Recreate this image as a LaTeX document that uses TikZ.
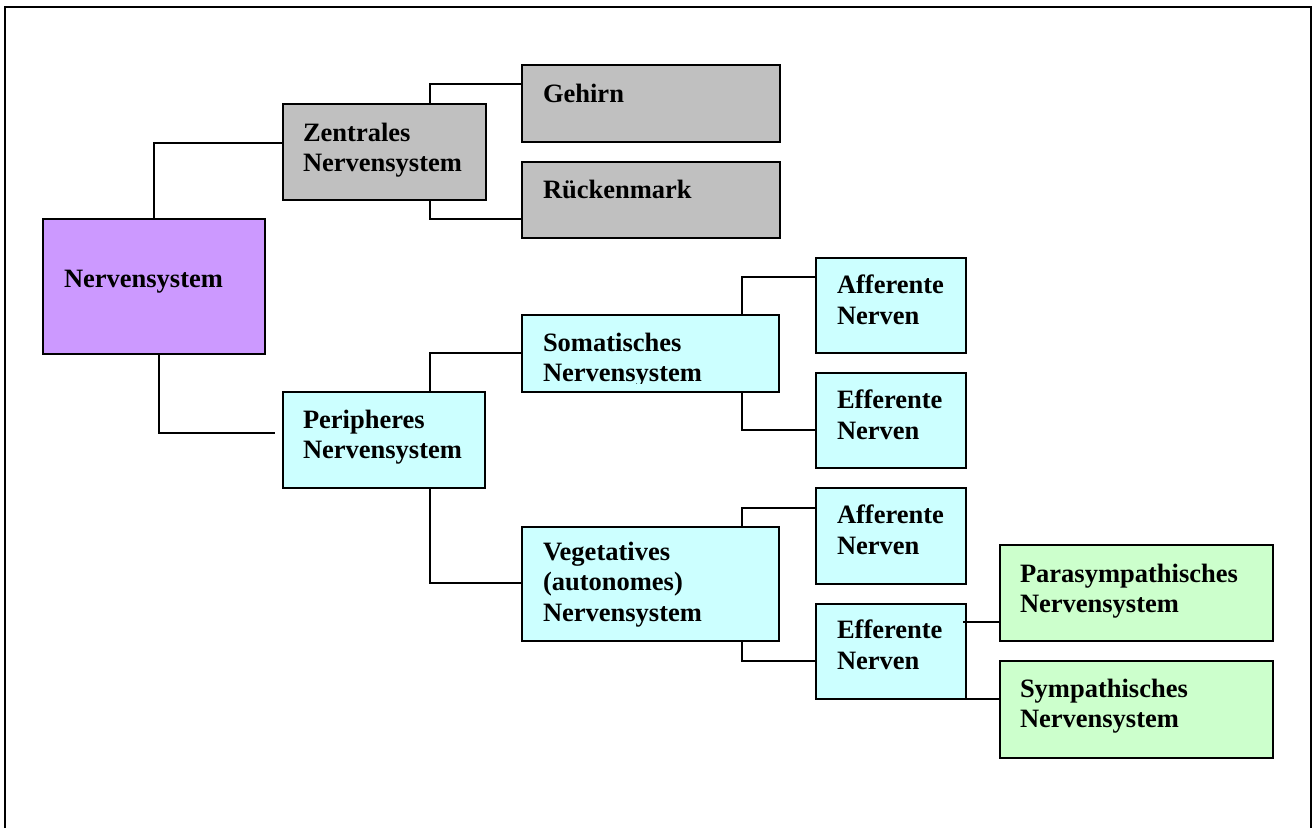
\documentclass[tikz,border=0pt]{standalone}
\usepackage{fontspec}
\setmainfont{Liberation Serif}
\usetikzlibrary{calc}
\definecolor{nsPurple}{HTML}{CC99FF}
\definecolor{nsGray}{HTML}{C0C0C0}
\definecolor{nsCyan}{HTML}{CCFFFF}
\definecolor{nsGreen}{HTML}{CCFFCC}
\begin{document}
\begin{tikzpicture}[x=1pt,y=-1pt,
  orgbox/.style={draw=black, line width=2pt, rectangle, inner sep=0pt, outer sep=0pt, anchor=north west},
  boxlabel/.style={anchor=north west, inner sep=0pt, outer sep=0pt, align=left,
    font=\fontsize{26.5}{30.5}\selectfont\bfseries},
  link/.style={draw=black, line width=1.6pt}]
\useasboundingbox (0,0) rectangle (1312,828);
% page frame (open at the bottom)
\draw[line width=2.2pt] (5,828) -- (5,7) -- (1311,7) -- (1311,828);

% boxes
\node[orgbox, fill=nsPurple, minimum width=222pt, minimum height=135pt] (nerv)   at (43,219)   {};
\node[orgbox, fill=nsGray,   minimum width=203pt, minimum height=96pt]  (zent)   at (283,104)  {};
\node[orgbox, fill=nsGray,   minimum width=258pt, minimum height=77pt]  (gehirn) at (522,65)   {};
\node[orgbox, fill=nsGray,   minimum width=258pt, minimum height=76pt]  (rueck)  at (522,162)  {};
\node[orgbox, fill=nsCyan,   minimum width=202pt, minimum height=96pt]  (per)    at (283,392)  {};
\node[orgbox, fill=nsCyan,   minimum width=257pt, minimum height=77pt]  (soma)   at (522,315)  {};
\node[orgbox, fill=nsCyan,   minimum width=150pt, minimum height=95pt]  (aff1)   at (816,258)  {};
\node[orgbox, fill=nsCyan,   minimum width=150pt, minimum height=95pt]  (eff1)   at (816,373)  {};
\node[orgbox, fill=nsCyan,   minimum width=257pt, minimum height=114pt] (veg)    at (522,527)  {};
\node[orgbox, fill=nsCyan,   minimum width=150pt, minimum height=96pt]  (aff2)   at (816,488)  {};
\node[orgbox, fill=nsCyan,   minimum width=150pt, minimum height=95pt]  (eff2)   at (816,604)  {};
\node[orgbox, fill=nsGreen,  minimum width=273pt, minimum height=96pt]  (para)   at (1000,545) {};
\node[orgbox, fill=nsGreen,  minimum width=273pt, minimum height=97pt]  (symp)   at (1000,661) {};

% labels
\node[boxlabel] (nerv-t)   at ($(nerv.north west)+(21,51)$)   {Nervensystem};
\node[boxlabel] (zent-t)   at ($(zent.north west)+(20,19)$)   {Zentrales\\Nervensystem};
\node[boxlabel] (gehirn-t) at ($(gehirn.north west)+(21,19)$) {Gehirn};
\node[boxlabel] (rueck-t)  at ($(rueck.north west)+(21,18)$)  {Rückenmark};
\node[boxlabel] (per-t)    at ($(per.north west)+(20,18)$)    {Peripheres\\Nervensystem};
\begin{scope}
  \clip (soma.north west) rectangle ($(soma.south east)+(0,-9)$);
  \node[boxlabel] (soma-t) at ($(soma.north west)+(21,18)$)   {Somatisches\\Nervensystem};
\end{scope}
\node[boxlabel] (aff1-t)   at ($(aff1.north west)+(21,17)$)   {Afferente\\Nerven};
\node[boxlabel] (eff1-t)   at ($(eff1.north west)+(21,17)$)   {Efferente\\Nerven};
\node[boxlabel] (veg-t)    at ($(veg.north west)+(21,15)$)    {Vegetatives\\(autonomes)\\Nervensystem};
\node[boxlabel] (aff2-t)   at ($(aff2.north west)+(21,17)$)   {Afferente\\Nerven};
\node[boxlabel] (eff2-t)   at ($(eff2.north west)+(21,16)$)   {Efferente\\Nerven};
\node[boxlabel] (para-t)   at ($(para.north west)+(20,19)$)   {Parasympathisches\\Nervensystem};
\node[boxlabel] (symp-t)   at ($(symp.north west)+(20,18)$)   {Sympathisches\\Nervensystem};

% connectors
\draw[link] ($(nerv.north west)+(111,0)$) |- ($(zent.north west)+(0,39)$);
\draw[link] ($(nerv.south west)+(116,0)$) |- ($(per.north west)+(-8,41)$);
\draw[link] ($(zent.north west)+(147,0)$) |- ($(gehirn.north west)+(0,19)$);
\draw[link] ($(zent.south west)+(147,0)$) |- ($(rueck.north west)+(0,57)$);
\draw[link] ($(per.north west)+(147,0)$)  |- ($(soma.north west)+(0,38)$);
\draw[link] ($(per.south west)+(147,0)$)  |- ($(veg.north west)+(0,56)$);
\draw[link] ($(soma.north west)+(220,0)$) |- ($(aff1.north west)+(0,19)$);
\draw[link] ($(soma.south west)+(220,0)$) |- ($(eff1.north west)+(0,57)$);
\draw[link] ($(veg.north west)+(220,0)$)  |- ($(aff2.north west)+(0,20)$);
\draw[link] ($(veg.south west)+(220,0)$)  |- ($(eff2.north west)+(0,57)$);
\draw[link] ($(eff2.north east)+(-3,18)$) -- ($(para.north west)+(0,77)$);
\draw[link] (eff2.south east) -- ($(symp.north west)+(0,38)$);
\end{tikzpicture}
\end{document}
